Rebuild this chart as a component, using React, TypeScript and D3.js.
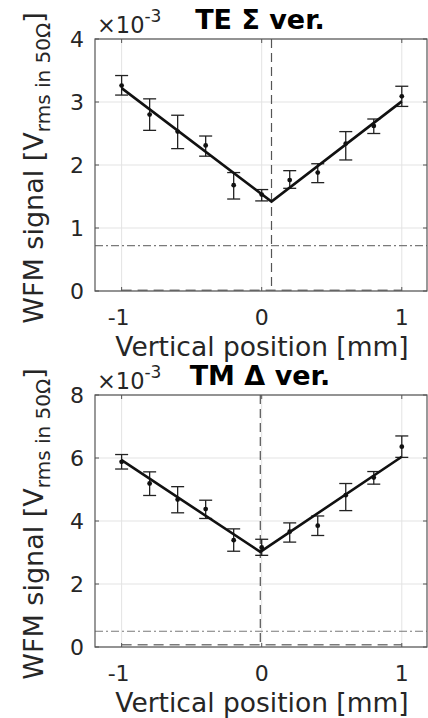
import React from 'react';
import * as d3 from 'd3';

// positions in mm, signals in units of 1e-3 V
const positions = [-1, -0.8, -0.6, -0.4, -0.2, 0, 0.2, 0.4, 0.6, 0.8, 1];

const teMean = [3.26, 2.8, 2.53, 2.31, 1.68, 1.53, 1.76, 1.88, 2.34, 2.62, 3.09];
const teLow = [3.11, 2.55, 2.26, 2.14, 1.46, 1.43, 1.63, 1.72, 2.08, 2.5, 2.93];
const teHigh = [3.42, 3.05, 2.79, 2.46, 1.88, 1.61, 1.91, 2.02, 2.53, 2.73, 3.25];
const teFitX = [-1, 0.07, 1];
const teFitY = [3.22, 1.42, 3.01];
const teCentre = 0.07;
const teNoise = 0.72;
const teFloor = 0.01;

const tmMean = [5.88, 5.19, 4.68, 4.38, 3.39, 3.16, 3.66, 3.85, 4.82, 5.38, 6.36];
const tmLow = [5.65, 4.81, 4.26, 4.08, 3.04, 2.91, 3.33, 3.54, 4.33, 5.17, 6.02];
const tmHigh = [6.11, 5.56, 5.09, 4.66, 3.75, 3.42, 3.94, 4.16, 5.19, 5.57, 6.7];
const tmFitX = [-1, -0.01, 1];
const tmFitY = [5.93, 3.02, 6.04];
const tmCentre = -0.01;
const tmNoise = 0.5;
const tmFloor = 0.07;

const xTicks = [-1, 0, 1];
const teTicks = [0, 1, 2, 3, 4];
const tmTicks = [0, 2, 4, 6, 8];

const font = 'DejaVu Sans';
const ink = '#262626';

type PanelProps = {
  top: number;
  title: string;
  yMax: number;
  yTicks: number[];
  mean: number[];
  low: number[];
  high: number[];
  fitX: number[];
  fitY: number[];
  centre: number;
  noise: number;
  floor: number;
};

function Panel(p: PanelProps) {
  const left = 95, right = 427, h = 252;
  const x = d3.scaleLinear().domain([-1.19, 1.18]).range([left, right]);
  const y = d3.scaleLinear().domain([0, p.yMax]).range([p.top + h, p.top]);
  const fit = d3.line<number>().x((d, i) => x(p.fitX[i])).y(d => y(d))(p.fitY) || '';
  const tk = 4;
  const bottom = p.top + h;
  return (
    <g>
      {/* grid */}
      {xTicks.map(t => (
        <line key={'gx' + t} x1={x(t)} x2={x(t)} y1={p.top} y2={bottom} stroke="#e3e3e3" strokeWidth={1} />
      ))}
      {p.yTicks.map(t => (
        <line key={'gy' + t} x1={left} x2={right} y1={y(t)} y2={y(t)} stroke="#e3e3e3" strokeWidth={1} />
      ))}
      {/* reference lines */}
      <line x1={left} x2={right} y1={y(p.noise)} y2={y(p.noise)} stroke="#7a7a7a" strokeWidth={1.2} strokeDasharray="8 3 2 3" />
      <line x1={x(-1)} x2={x(1)} y1={y(p.floor)} y2={y(p.floor)} stroke="#7a7a7a" strokeWidth={1.5} strokeDasharray="10 6" />
      <line x1={x(p.centre)} x2={x(p.centre)} y1={p.top} y2={bottom} stroke="#555" strokeWidth={1.2} strokeDasharray="9 5" />
      {/* error bars */}
      {positions.map((px, i) => (
        <g key={'e' + i} stroke="#222" strokeWidth={1.3}>
          <line x1={x(px)} x2={x(px)} y1={y(p.low[i])} y2={y(p.high[i])} />
          <line x1={x(px) - 6.5} x2={x(px) + 6.5} y1={y(p.low[i])} y2={y(p.low[i])} />
          <line x1={x(px) - 6.5} x2={x(px) + 6.5} y1={y(p.high[i])} y2={y(p.high[i])} />
        </g>
      ))}
      {positions.map((px, i) => (
        <circle key={'m' + i} cx={x(px)} cy={y(p.mean[i])} r={2.4} fill="#111" />
      ))}
      <path d={fit} fill="none" stroke="#111" strokeWidth={2.6} />
      {/* box */}
      <rect x={left} y={p.top} width={right - left} height={h} fill="none" stroke="#555" strokeWidth={1.2} />
      {xTicks.map(t => (
        <g key={'tx' + t} stroke="#555" strokeWidth={1}>
          <line x1={x(t)} x2={x(t)} y1={bottom} y2={bottom - tk} />
          <line x1={x(t)} x2={x(t)} y1={p.top} y2={p.top + tk} />
        </g>
      ))}
      {p.yTicks.map(t => (
        <g key={'ty' + t} stroke="#555" strokeWidth={1}>
          <line x1={left} x2={left + tk} y1={y(t)} y2={y(t)} />
          <line x1={right} x2={right - tk} y1={y(t)} y2={y(t)} />
        </g>
      ))}
      {/* tick labels */}
      {xTicks.map(t => (
        <text key={'lx' + t} x={x(t) - (t < 0 ? 3 : 0)} y={bottom + 34} textAnchor="middle" fontSize={22} fill={ink} fontFamily={font}>
          {String(t)}
        </text>
      ))}
      {p.yTicks.map(t => (
        <text key={'ly' + t} x={left - 11} y={y(t) + 8} textAnchor="end" fontSize={22} fill={ink} fontFamily={font}>
          {t}
        </text>
      ))}
      {/* exponent */}
      <text x={97} y={p.top - 6} fontSize={22.5} fill={ink} fontFamily={font}>
        ×10<tspan dy={-11} fontSize={17}>-3</tspan>
      </text>
      <text x={260} y={p.top - 10} textAnchor="middle" fontSize={27} fontWeight="bold" fill="#000" fontFamily={font}>
        {p.title}
      </text>
      <text x={262} y={bottom + 65} textAnchor="middle" fontSize={26.5} fill={ink} fontFamily={font}>
        Vertical position [mm]
      </text>
      <text transform={`translate(43,${p.top + h / 2 + 3}) rotate(-90)`} textAnchor="middle" fontSize={27} fill={ink} fontFamily={font}>
        WFM signal [V<tspan dy={7} fontSize={20}>rms in 50Ω</tspan><tspan dy={-7}>]</tspan>
      </text>
    </g>
  );
}

export default function App() {
  return (
    <svg width={428} height={718} style={{ position: 'absolute', left: 0, top: 0, background: '#fff' }}>
      <rect width={428} height={718} fill="#fff" />
      <Panel top={39} title="TE Σ ver." yMax={4} yTicks={teTicks} mean={teMean} low={teLow} high={teHigh}
        fitX={teFitX} fitY={teFitY} centre={teCentre} noise={teNoise} floor={teFloor} />
      <Panel top={395} title="TM Δ ver." yMax={8} yTicks={tmTicks} mean={tmMean} low={tmLow} high={tmHigh}
        fitX={tmFitX} fitY={tmFitY} centre={tmCentre} noise={tmNoise} floor={tmFloor} />
    </svg>
  );
}
